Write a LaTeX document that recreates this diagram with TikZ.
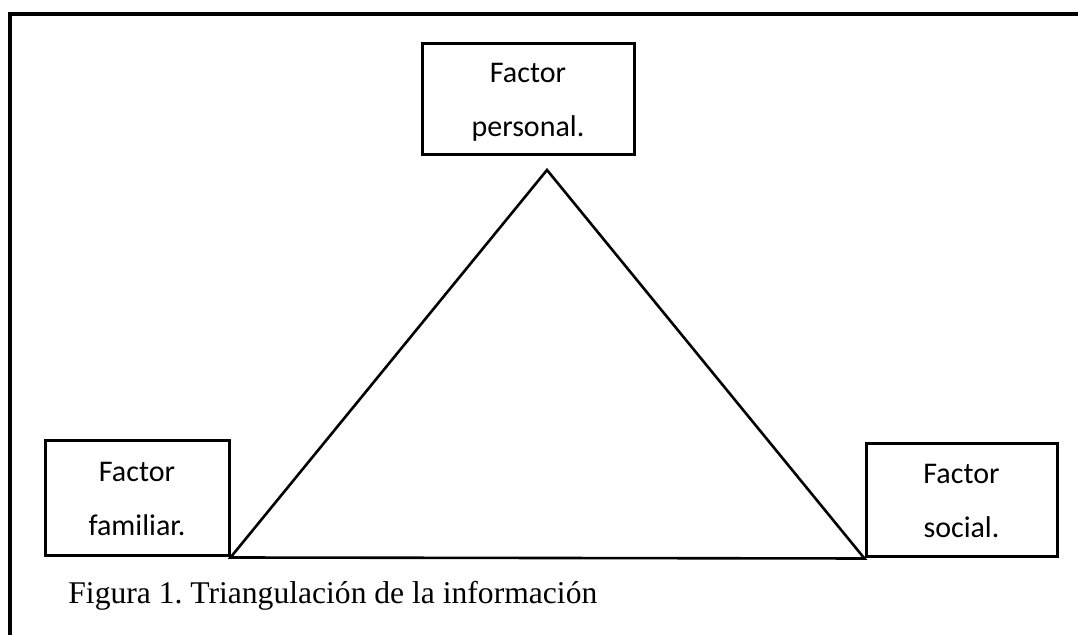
\documentclass[tikz,border=0pt]{standalone}
\usepackage{fontspec}
\setmainfont{Liberation Serif}
\newfontfamily\boxfont{Carlito}
\usetikzlibrary{positioning}
\frenchspacing

\begin{document}
\begin{tikzpicture}[x=0.5pt, y=-0.5pt, every node/.style={font=\boxfont\fontsize{15}{27}\selectfont},
	factor/.style={draw, line width=1.5pt, align=center, text depth=0pt, inner sep=0pt}]
			\useasboundingbox (0,0) rectangle (1078,635);
			% marco
			\draw[line width=1.6pt] (1078,14) -- (10,14) -- (10,635);
			
			\node[factor, minimum width=106pt, minimum height=55.5pt] (pers) at (528,99.5) {Factor\\personal.};
			\node[factor, minimum width=92pt, minimum height=57.5pt] (fam) at (137,498.5) {Factor\\familiar.};
			\node[factor, minimum width=95.5pt, minimum height=56.5pt] (soc) at (961.5,500.5) {Factor\\social.};
			
			\coordinate (apex) at (547,170);
			\draw[line width=1.3pt, line join=miter] (fam.south east) -- (apex) -- (soc.south west) -- cycle;
			
			\node[anchor=base west, inner sep=0pt, font=\rmfamily\fontsize{15.8}{19}\selectfont] (cap) at (68,604) {Figura 1. Triangulación de la información};
		\end{tikzpicture}
\end{document}
